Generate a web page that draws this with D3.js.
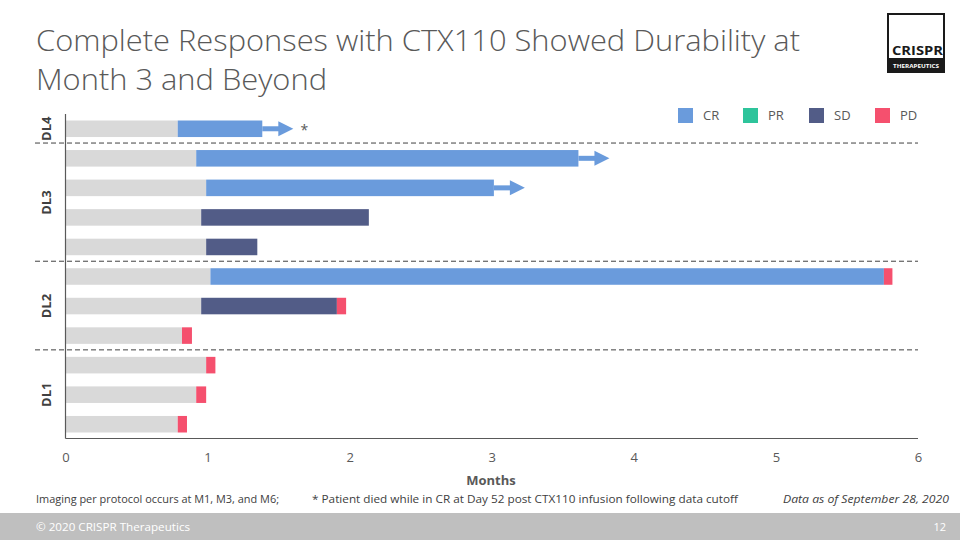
<!DOCTYPE html>
<html>
<head>
<meta charset="utf-8">
<script src="https://cdn.jsdelivr.net/npm/d3@7"></script>
<style>
  html, body { margin: 0; padding: 0; background: #fff; }
  svg { display: block; }
  text { font-family: "Open Sans", "Noto Sans", sans-serif; }
</style>
</head>
<body>
<svg id="chart" width="960" height="540"></svg>
<script>
// ---------------- DATA ----------------
const patients = ["P1","P2","P3","P4","P5","P6","P7","P8","P9","P10","P11"];
const doseLevel = ["DL4","DL3","DL3","DL3","DL3","DL2","DL2","DL2","DL1","DL1","DL1"];
const doseGroups = ["DL4","DL3","DL2","DL1"];
const preResponse = [0.79, 0.92, 0.99, 0.955, 0.99, 1.02, 0.955, 0.82, 0.99, 0.92, 0.79];
const responseType = ["CR","CR","CR","SD","SD","CR","SD",null,null,null,null];
const responseEnd = [1.385, 3.61, 3.015, 2.135, 1.35, 5.76, 1.91, null, null, null, null];
const pdEnd = [null, null, null, null, null, 5.82, 1.975, 0.89, 1.055, 0.99, 0.855];
const ongoing = [true, true, true, false, false, false, false, false, false, false, false];
const footnoteMark = [true, false, false, false, false, false, false, false, false, false, false];
const legendKeys = ["CR","PR","SD","PD"];
const xTicks = [0, 1, 2, 3, 4, 5, 6];

const colors = { CR: "#6A9BDC", PR: "#2EC49B", SD: "#525C87", PD: "#F5506E", pre: "#D9D9D9" };

// ---------------- SVG ----------------
const svg = d3.select("#chart");

const x = d3.scaleLinear().domain([0, 6]).range([65.5, 918]);
const y = d3.scaleBand().domain(patients).range([114, 439]).paddingInner(0.44).paddingOuter(0.22);
const bw = y.bandwidth();

// Title
const title = svg.append("g").attr("fill", "#595959").style("font-weight", 300);
title.append("text").attr("x", 36).attr("y", 51).attr("font-size", 29)
  .attr("textLength", 764).attr("lengthAdjust", "spacingAndGlyphs")
  .text("Complete Responses with CTX110 Showed Durability at");
title.append("text").attr("x", 36).attr("y", 90).attr("font-size", 29)
  .attr("textLength", 291).attr("lengthAdjust", "spacingAndGlyphs")
  .text("Month 3 and Beyond");

// Logo
const logo = svg.append("g");
logo.append("rect").attr("x", 888).attr("y", 14).attr("width", 56).attr("height", 58)
  .attr("fill", "#fff").attr("stroke", "#1a1a1a").attr("stroke-width", 2);
logo.append("rect").attr("x", 887).attr("y", 58).attr("width", 58).attr("height", 15).attr("fill", "#1a1a1a");
logo.append("text").attr("x", 892).attr("y", 55).attr("font-size", 12).attr("font-weight", 700)
  .attr("fill", "#1a1a1a").attr("textLength", 51).attr("lengthAdjust", "spacingAndGlyphs").text("CRISPR");
logo.append("text").attr("x", 893).attr("y", 68).attr("font-size", 6).attr("font-weight", 700)
  .attr("fill", "#fff").attr("textLength", 46).attr("lengthAdjust", "spacingAndGlyphs").text("THERAPEUTICS");

// Legend
const legX = [678, 743, 809, 875];
const legend = svg.append("g");
legendKeys.forEach((k, i) => {
  legend.append("rect").attr("x", legX[i]).attr("y", 108).attr("width", 15).attr("height", 15).attr("fill", colors[k]);
  legend.append("text").attr("x", legX[i] + 25).attr("y", 115.5).attr("dy", "0.35em")
    .attr("font-size", 13).attr("fill", "#595959").text(k);
});

// Bars
const bars = svg.append("g");
patients.forEach((p, i) => {
  const yy = y(p);
  bars.append("rect").attr("x", x(0)).attr("y", yy).attr("width", x(preResponse[i]) - x(0)).attr("height", bw).attr("fill", colors.pre);
  let last = preResponse[i];
  if (responseType[i]) {
    bars.append("rect").attr("x", x(last)).attr("y", yy).attr("width", x(responseEnd[i]) - x(last)).attr("height", bw).attr("fill", colors[responseType[i]]);
    last = responseEnd[i];
  }
  if (pdEnd[i] != null) {
    bars.append("rect").attr("x", x(last)).attr("y", yy).attr("width", x(pdEnd[i]) - x(last)).attr("height", bw).attr("fill", colors.PD);
    last = pdEnd[i];
  }
  const cy = yy + bw / 2;
  if (ongoing[i]) {
    const x0 = x(last);
    bars.append("rect").attr("x", x0).attr("y", cy - 2.5).attr("width", 17).attr("height", 5).attr("fill", colors[responseType[i]]);
    bars.append("path").attr("d", `M${x0 + 16},${cy - 7.5} L${x0 + 31},${cy} L${x0 + 16},${cy + 7.5} Z`).attr("fill", colors[responseType[i]]);
    if (footnoteMark[i]) {
      bars.append("text").attr("x", x0 + 42).attr("y", cy + 1).attr("dy", "0.35em").attr("text-anchor", "middle")
        .attr("font-size", 14).attr("fill", "#595959").text("*");
    }
  }
});

// Group separators and labels
const sep = svg.append("g");
doseGroups.forEach((g, gi) => {
  const idx = doseLevel.map((d, i) => d === g ? i : -1).filter(i => i >= 0);
  const top = y(patients[idx[0]]) + bw / 2;
  const bot = y(patients[idx[idx.length - 1]]) + bw / 2;
  sep.append("text").attr("transform", `translate(46,${(top + bot) / 2}) rotate(-90)`)
    .attr("text-anchor", "middle").attr("dy", "0.35em").attr("font-size", 13).attr("font-weight", 700)
    .attr("fill", "#404040").text(g);
  if (gi > 0) {
    const yl = y(patients[idx[0]]) - y.step() * y.paddingInner() / 2 - 0.5;
    sep.append("line").attr("x1", 35).attr("x2", 918).attr("y1", yl).attr("y2", yl)
      .attr("stroke", "#404040").attr("stroke-width", 1).attr("stroke-dasharray", "5,3");
  }
});

// Axes
const axes = svg.append("g");
axes.append("line").attr("x1", x(0)).attr("x2", x(0)).attr("y1", 114).attr("y2", 438.5).attr("stroke", "#595959").attr("stroke-width", 1.2);
axes.append("line").attr("x1", x(0)).attr("x2", x(6)).attr("y1", 438.5).attr("y2", 438.5).attr("stroke", "#595959").attr("stroke-width", 1.2);
const xAxis = d3.axisBottom(x).tickValues(xTicks).tickSize(0).tickPadding(14).tickFormat(d3.format("d"));
const gx = svg.append("g").attr("transform", "translate(0,438.5)").call(xAxis);
gx.select(".domain").remove();
gx.selectAll("text").attr("font-size", 13).attr("fill", "#595959").style("font-family", "'Open Sans', sans-serif");

svg.append("text").attr("x", 491).attr("y", 485).attr("text-anchor", "middle").attr("font-size", 13)
  .attr("font-weight", 700).attr("fill", "#595959").text("Months");

// Footnotes
svg.append("text").attr("x", 36).attr("y", 503).attr("font-size", 10.5).attr("fill", "#404040")
  .attr("textLength", 243).attr("lengthAdjust", "spacingAndGlyphs")
  .text("Imaging per protocol occurs at M1,  M3, and M6;");
svg.append("text").attr("x", 312).attr("y", 503).attr("font-size", 10.5).attr("fill", "#404040")
  .attr("textLength", 426).attr("lengthAdjust", "spacingAndGlyphs")
  .text("* Patient died while in CR at Day 52 post CTX110  infusion following data cutoff");
svg.append("text").attr("x", 949).attr("y", 503).attr("text-anchor", "end").attr("font-size", 10.5)
  .attr("font-style", "italic").attr("fill", "#404040")
  .attr("textLength", 166).attr("lengthAdjust", "spacingAndGlyphs")
  .text("Data as of September 28, 2020");

// Footer
svg.append("rect").attr("x", 0).attr("y", 513).attr("width", 960).attr("height", 27).attr("fill", "#BFBFBF");
svg.append("text").attr("x", 36).attr("y", 527).attr("dy", "0.35em").attr("font-size", 11).attr("fill", "#fff")
  .attr("textLength", 154).attr("lengthAdjust", "spacingAndGlyphs").text("© 2020 CRISPR Therapeutics");
svg.append("text").attr("x", 946).attr("y", 527).attr("dy", "0.35em").attr("text-anchor", "end").attr("font-size", 11)
  .attr("fill", "#fff").text("12");
</script>
</body>
</html>
